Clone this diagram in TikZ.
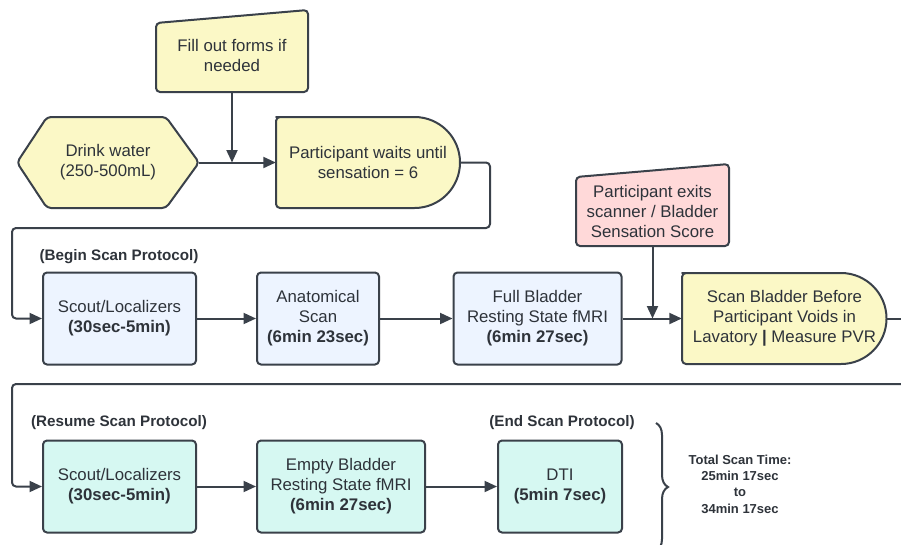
\documentclass[tikz,border=0pt]{standalone}
\usepackage{fontspec}
\setmainfont{Liberation Sans}
\usetikzlibrary{arrows.meta,decorations.pathreplacing,calc}
\definecolor{strk}{HTML}{3A414A}
\definecolor{txt}{HTML}{2E333A}
\definecolor{yel}{HTML}{FBF8C6}
\definecolor{blu}{HTML}{EDF4FF}
\definecolor{tea}{HTML}{D6F8F2}
\definecolor{pnk}{HTML}{FFD9D9}
\begin{document}
\begin{tikzpicture}[x=1pt,y=-1pt,
  shapeline/.style={draw=strk, line width=2pt, rounded corners=4pt},
  boxtext/.style={text=txt, align=center, font=\fontsize{16.8}{20}\selectfont, inner sep=0pt},
  rbox/.style={boxtext, draw=strk, line width=2pt, rounded corners=4pt, minimum width=#1, minimum height=92},
  lbl/.style={text=txt, font=\bfseries\fontsize{15.2}{18}\selectfont, inner sep=0pt},
  line/.style={draw=strk, line width=2pt},
  conn/.style={line, -{Triangle[length=12.5pt,width=11pt]}}]
\useasboundingbox (0,0) rectangle (901,544);
\clip (0,0) rectangle (901,544);

% --- shapes drawn directly ---
\draw[shapeline, fill=yel] (156,23) -- (308,10) -- (308,92) -- (156,92) -- cycle;
\draw[shapeline, fill=yel] (17,162.5) -- (47,117) -- (166,117) -- (199,162.5) -- (166,208) -- (47,208) -- cycle;
\draw[line, fill=yel, line join=round] (280,117) -- (414.5,117) arc[start angle=-90, end angle=90, radius=45.5] -- (280,208)
   [rounded corners=4pt] -- (276,208) -- (276,117) -- cycle;
\draw[shapeline, fill=pnk] (576,177) -- (729,164) -- (729,246) -- (576,246) -- cycle;
\draw[line, fill=yel, line join=round] (686,273) -- (841,273) arc[start angle=-90, end angle=90, radius=45.5] -- (686,364)
   [rounded corners=4pt] -- (682,364) -- (682,273) -- cycle;

% --- nodes ---
\node[boxtext, minimum width=152, minimum height=74] (fill) at (232,55) {Fill out forms if\\needed};
\node[boxtext, minimum width=182, minimum height=91] (drink) at (108,162.5) {Drink water\\(250-500mL)};
\node[boxtext, minimum width=184, minimum height=91] (wait) at (368,162.5) {Participant waits until\\sensation = 6};
\node[boxtext, minimum width=153, minimum height=70] (pink) at (652.5,211) {Participant exits\\scanner / Bladder\\Sensation Score};
\node[boxtext, minimum width=205, minimum height=91] (scanb) at (784.5,318.5) {Scan Bladder Before\\Participant Voids in\\Lavatory \textbf{|} Measure PVR};

\node[rbox=153, fill=blu] (scout1) at (119.5,318.5) {Scout/Localizers\\\textbf{(30sec-5min)}};
\node[rbox=122, fill=blu] (anat) at (318,318.5) {Anatomical\\Scan\\\textbf{(6min 23sec)}};
\node[rbox=168, fill=blu] (full) at (537.5,318.5) {Full Bladder\\Resting State fMRI\\\textbf{(6min 27sec)}};

\node[rbox=153, fill=tea] (scout2) at (119.5,486.5) {Scout/Localizers\\\textbf{(30sec-5min)}};
\node[rbox=168, fill=tea] (empty) at (341,486.5) {Empty Bladder\\Resting State fMRI\\\textbf{(6min 27sec)}};
\node[rbox=124, fill=tea] (dti) at (560,486.5) {DTI\\\textbf{(5min 7sec)}};

\node[lbl] (l1) at (119,257) {(Begin Scan Protocol)};
\node[lbl] (l2) at (119,423) {(Resume Scan Protocol)};
\node[lbl] (l3) at (562,423) {(End Scan Protocol)};
\node[text=txt, align=center, inner sep=0pt, font=\bfseries\fontsize{13}{16.3}\selectfont] (total) at (740,484) {Total Scan Time:\\25min 17sec\\to\\34min 17sec};

\coordinate (rout) at (901,318.5);
\coordinate (rin) at (901,384);
\coordinate (bt) at (656,423);
\coordinate (bb) at (656,551);

% --- connectors ---
\draw[conn] (fill.south) -- (fill.south |- drink.east);
\draw[conn] (drink.east) -- (wait.west);
\draw[conn, rounded corners=4pt] (wait.east) -- (490,162.5) -- (490,228) -- (12,228) |- (scout1.west);
\draw[conn] (scout1) -- (anat);
\draw[conn] (anat) -- (full);
\draw[conn] (full) -- (scanb);
\draw[conn] (pink.south) -- (pink.south |- scanb.west);
\draw[line] (scanb.east) -- (rout);
\draw[conn, rounded corners=4pt] (rin) -- (12,384) |- (scout2.west);
\draw[conn] (scout2) -- (empty);
\draw[conn] (empty) -- (dti);
\draw[line, decorate, decoration={brace, amplitude=12pt}] (bt) -- (bb);
\end{tikzpicture}
\end{document}
